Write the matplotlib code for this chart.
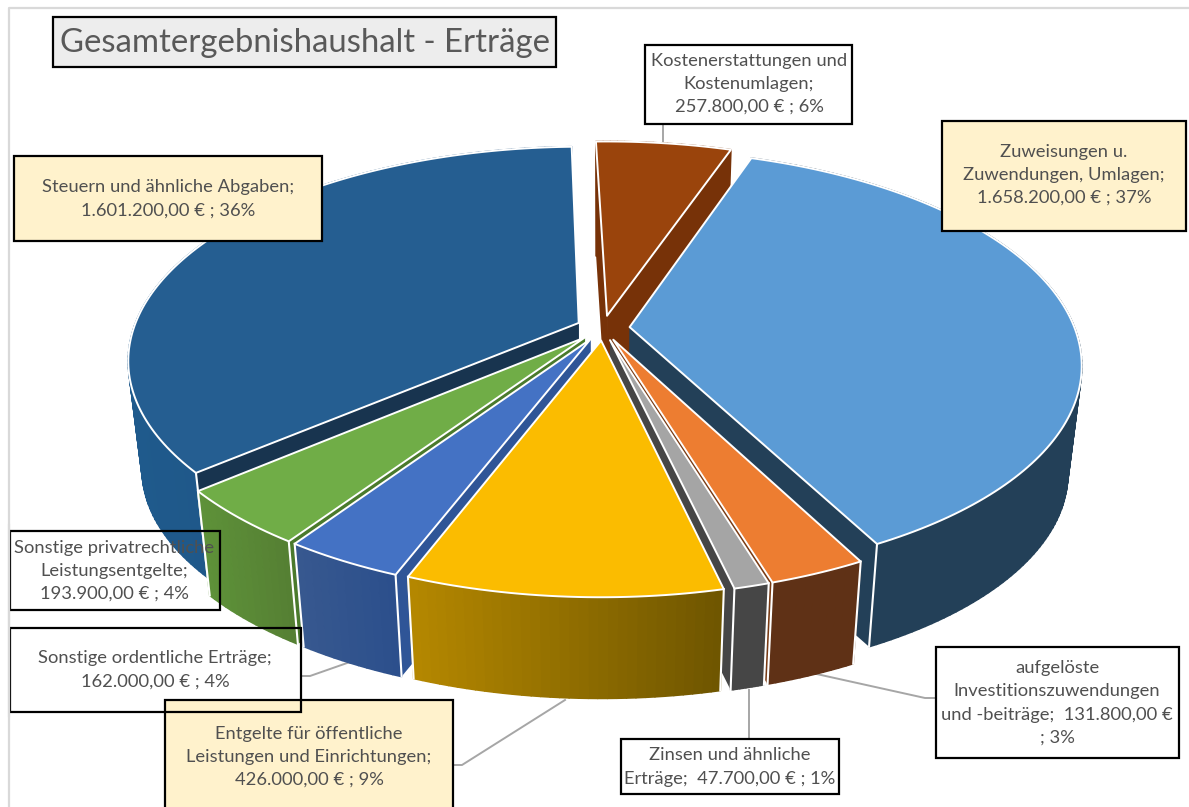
import numpy as np
import matplotlib
matplotlib.use('Agg')
import matplotlib.pyplot as plt
from matplotlib.patches import Rectangle, Polygon
from matplotlib.collections import PolyCollection
from matplotlib.colors import to_rgb

plt.rcParams['font.family'] = ['Lato', 'DejaVu Sans']

# slices, clockwise starting at the top
names = ['Kostenerstattungen und\nKostenumlagen;\n',
         'Zuweisungen u.\nZuwendungen, Umlagen;\n',
         'aufgelöste\nInvestitionszuwendungen\nund -beiträge;  ',
         'Zinsen und ähnliche\nErträge;  ',
         'Entgelte für öffentliche\nLeistungen und Einrichtungen;\n',
         'Sonstige ordentliche Erträge;\n',
         'Sonstige privatrechtliche\nLeistungsentgelte;\n',
         'Steuern und ähnliche Abgaben;\n']
values = [257800, 1658200, 131800, 47700, 426000, 162000, 193900, 1601200]
percents = [6, 37, 3, 1, 9, 4, 4, 36]
value_texts = ['257.800,00 € ; ', '1.658.200,00 € ; ', '131.800,00 €\n; ', '47.700,00 € ; ',
               '426.000,00 € ; ', '162.000,00 € ; ', '193.900,00 € ; ', '1.601.200,00 € ; ']

top_colors = ['#9A440C', '#5B9BD5', '#ED7D31', '#A5A5A5', '#FBBC00', '#4472C4', '#70AD47', '#255E91']
wall_left = ['#773208', '#234058', '#5F3116', '#464646', '#B58800', '#37588F', '#5E9239', '#1F5A8C']
wall_right = ['#773208', '#234058', '#5F3116', '#464646', '#6E5500', '#2C4F8C', '#557F33', '#1F4E7C']
cut_colors = ['#773208', '#234058', '#7A3A12', '#464646', '#8A6800', '#2F5597', '#4A7A2C', '#18344F']

# label boxes: x0, y0, x1, y1, fill (None = transparent)
boxes = [(645, 45, 852, 124, '#FFFFFF'),
         (942, 121, 1186, 231, '#FFF2CC'),
         (936, 647, 1179, 758, '#FFFFFF'),
         (621, 739, 839, 794, '#FFFFFF'),
         (165, 700, 453, 830, '#FFF2CC'),
         (10, 628, 301, 712, None),
         (10, 531, 220, 610, None),
         (14, 156, 322, 241, '#FFF2CC')]
label_y = [84, 175, 703, 767, 757, 670, 571, 199]
label_x = [749, 1064, 1057, 730, 309, 155, 114, 168]
leaders = [([663, 663], [124, 143]),
           ([936, 925, 812], [698, 698, 673]),
           ([749, 749], [739, 690]),
           ([453, 462, 565], [765, 765, 700]),
           ([301, 310, 350], [676, 676, 662])]

cx, cy = 603, 328
rx, ry = 445, 208
persp = 0.171
depth_shrink = 0.03
height = 109
explode = 0.06
start_angle = -1.6


def project(u, v, z=0.0):
    w = 1 + persp * v
    s = 1 / (1 + depth_shrink * z)
    return cx + rx * u / w * s, cy - ry * v / w * s + height * z


fig = plt.figure(figsize=(11.89, 8.07), dpi=100)
ax = fig.add_axes([0, 0, 1, 1])
ax.set_xlim(0, 1189)
ax.set_ylim(807, 0)
ax.axis('off')

# outer frame of the chart area
ax.plot([9, 9, 1189], [807, 8, 8], color='#D9D9D9', lw=1.6, zorder=1)

fracs = np.array(values) / sum(values)
ends = start_angle + 360 * np.cumsum(fracs)
starts = ends - 360 * fracs
mids = (starts + ends) / 2

# back slices first, front ones painted over them
for i in np.argsort(-np.cos(np.radians(mids))):
    mid = np.radians(mids[i])
    ox, oy = explode * np.sin(mid), explode * np.cos(mid)
    th = np.radians(np.linspace(starts[i], ends[i], max(int(fracs[i] * 360), 12)))
    us = ox + np.sin(th)
    vs = oy + np.cos(th)

    top_x, top_y = project(us, vs, 0)
    bot_x, bot_y = project(us, vs, 1)
    ax0, ay0 = project(ox, oy, 0)
    ax1, ay1 = project(ox, oy, 1)

    # flat cut faces
    for j in (0, -1):
        ax.add_patch(Polygon([(ax0, ay0), (top_x[j], top_y[j]), (bot_x[j], bot_y[j]), (ax1, ay1)],
                             facecolor=cut_colors[i], edgecolor='none', zorder=2))

    # outer wall, shaded from left to right
    c0, c1 = np.array(to_rgb(wall_left[i])), np.array(to_rgb(wall_right[i]))
    quads, cols = [], []
    span = top_x.max() - top_x.min()
    for j in range(len(th) - 1):
        quads.append([(top_x[j], top_y[j]), (top_x[j + 1], top_y[j + 1]),
                      (bot_x[j + 1], bot_y[j + 1]), (bot_x[j], bot_y[j])])
        t = ((top_x[j] + top_x[j + 1]) / 2 - top_x.min()) / span
        cols.append(c0 + (c1 - c0) * t)
    ax.add_collection(PolyCollection(quads, facecolors=cols, edgecolors=cols, linewidths=1.2, zorder=2))

    # white highlight on the visible corners of the wall
    for j in (0, -1):
        if vs[j] < 0.6:
            ax.plot([top_x[j], bot_x[j]], [top_y[j], bot_y[j]], color='white', lw=1.5, zorder=2)

    outline = np.vstack([[ax0, ay0], np.column_stack([top_x, top_y])])
    ax.add_patch(Polygon(outline, closed=True, facecolor=top_colors[i], edgecolor='white',
                         linewidth=1.4, joinstyle='round', zorder=2))

for xs, ys in leaders:
    ax.plot(xs, ys, color='#A6A6A6', lw=1.4, zorder=1.5)

for i, (x0, y0, x1, y1, fill) in enumerate(boxes):
    ax.add_patch(Rectangle((x0, y0), x1 - x0, y1 - y0, facecolor=fill if fill else 'none',
                           edgecolor='black', lw=1.6, zorder=3))
    ax.text(label_x[i], label_y[i], names[i] + value_texts[i] + '%d%%' % percents[i],
            ha='center', va='center', fontsize=13.2, color='#505050', linespacing=1.54, zorder=4)

# frame line stays over the open left edge of the two boxes
ax.plot([9, 9], [525, 716], color='#D9D9D9', lw=1.6, zorder=3.5)

ax.add_patch(Rectangle((53, 17), 503, 50, facecolor='#EDEDED', edgecolor='black', lw=1.6, zorder=3))
ax.text(304.5, 43, 'Gesamtergebnishaushalt - Erträge', ha='center', va='center',
        fontsize=23.7, color='#595959', zorder=4)

fig.savefig('out.png', dpi=100)
